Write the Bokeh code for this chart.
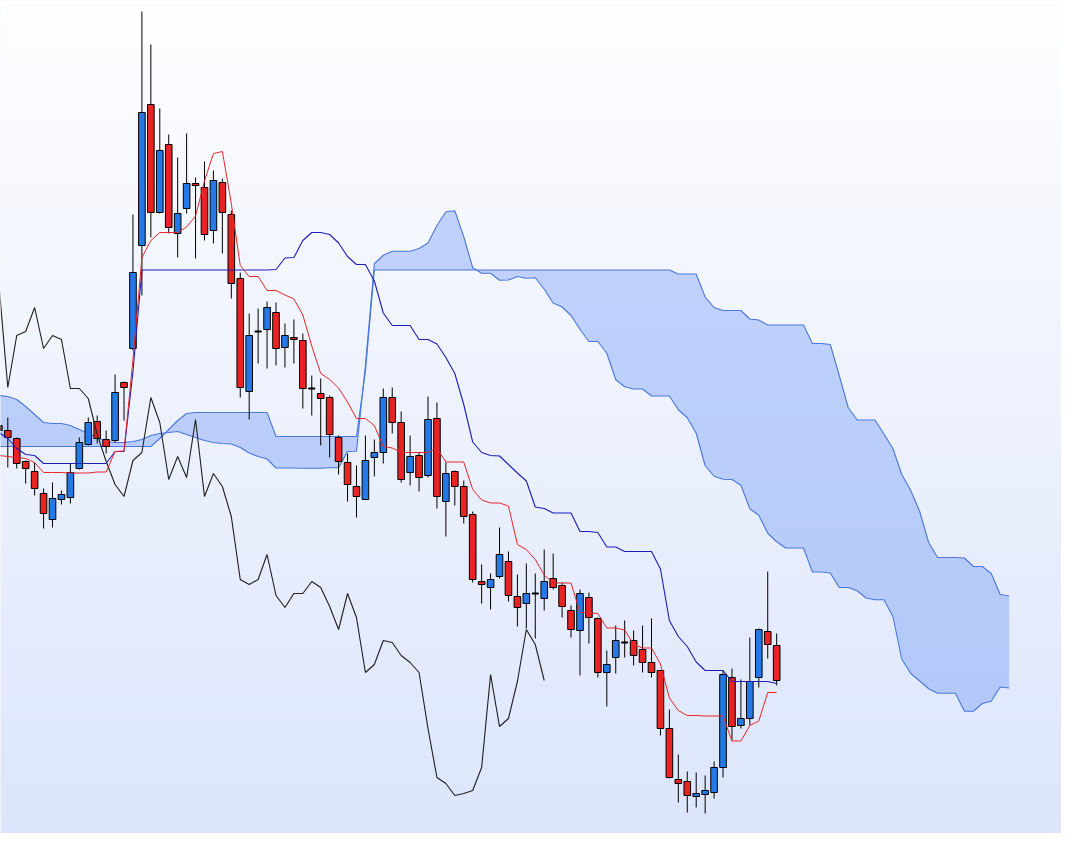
import numpy as np
from bokeh.plotting import figure
from bokeh.models import Range1d, ColumnDataSource
from bokeh.embed import file_html
from bokeh.resources import INLINE

# ---------------- data ----------------
open_ = [425, 420, 412, 389, 379, 357, 331, 351, 353, 382,
         406, 429, 411, 410, 468, 502, 605, 746, 638, 706,
         617, 642, 667, 663, 620, 668, 636, 572, 459, 519,
         521, 538, 503, 513, 510, 462, 457, 453, 413, 388,
         364, 351, 393, 398, 453, 428, 378, 395, 375, 432,
         349, 379, 364, 336, 269, 263, 274, 289, 254, 247,
         257, 252, 272, 265, 240, 220, 253, 232, 178, 193,
         208, 210, 201, 188, 180, 122, 71, 69, 54, 56,
         58, 83, 173, 125, 132, 173, 219, 205]
high = [430, 433, 413, 390, 388, 362, 368, 360, 387, 413,
        433, 435, 420, 476, 469, 636, 839, 806, 742, 716,
        693, 717, 673, 689, 680, 672, 640, 578, 537, 542,
        549, 548, 527, 531, 517, 475, 472, 455, 415, 397,
        385, 415, 411, 462, 463, 439, 415, 398, 454, 448,
        388, 380, 370, 339, 286, 277, 323, 299, 276, 287,
        277, 301, 297, 268, 245, 261, 258, 233, 200, 225,
        230, 220, 225, 232, 180, 141, 96, 79, 78, 75,
        89, 180, 182, 171, 213, 222, 279, 217]
low = [417, 383, 382, 367, 355, 322, 323, 346, 347, 381,
       405, 407, 397, 408, 430, 500, 555, 613, 637, 617,
       593, 637, 592, 610, 607, 597, 552, 453, 431, 487,
       482, 485, 483, 487, 442, 435, 405, 393, 376, 349,
       333, 351, 374, 387, 417, 368, 365, 359, 373, 342,
       314, 345, 327, 268, 247, 241, 272, 249, 224, 222,
       212, 240, 261, 233, 213, 175, 207, 173, 144, 177,
       193, 185, 178, 173, 115, 72, 48, 38, 43, 37,
       52, 73, 110, 122, 125, 163, 192, 165]
close = [420, 413, 387, 382, 362, 337, 352, 356, 378, 408,
         428, 412, 404, 458, 463, 578, 738, 638, 700, 623,
         637, 667, 665, 616, 670, 638, 567, 463, 515, 519,
         543, 502, 515, 511, 462, 462, 452, 416, 389, 366,
         354, 390, 398, 453, 428, 371, 394, 373, 431, 354,
         377, 364, 334, 271, 266, 271, 296, 255, 243, 257,
         257, 269, 263, 244, 221, 257, 233, 178, 186, 210,
         208, 195, 188, 178, 122, 73, 67, 55, 57, 60,
         83, 176, 124, 132, 169, 221, 206, 170]

# indicator values before enough history is visible
tenkan_early = [395, 394, 393, 392, 388, 378, 378, 378]
kijun_early = [418, 412, 402, 396, 395, 387, 387, 387, 387, 387, 387, 387, 387]
span_a_early = [455, 454, 451, 444, 436, 428, 427, 427, 425, 421,
                417, 413, 409, 408, 408, 409, 411, 415, 417, 418,
                419, 416, 413, 410, 408, 407]
span_b_early = [404] * 18 + [412, 421, 430, 437] + [438] * 9 + [414] * 10

SHIFT = 26

# ---------------- Ichimoku from the candles ----------------
n = len(close)


def midpoint(i, w):
    s = max(0, i - w + 1)
    return (max(high[s:i + 1]) + min(low[s:i + 1])) / 2.0


tenkan = [tenkan_early[i] if i < len(tenkan_early) else midpoint(i, 9) for i in range(n)]
kijun = [kijun_early[i] if i < len(kijun_early) else midpoint(i, 26) for i in range(n)]
span_a = list(span_a_early) + [(tenkan[k] + kijun[k]) / 2.0
                               for k in range(len(span_a_early) - SHIFT, n)]
span_b = list(span_b_early) + [midpoint(k, 52)
                               for k in range(len(span_b_early) - SHIFT, n)]
cloud_x = list(range(len(span_a)))
chikou_x = list(range(n - SHIFT))
chikou = [close[i + SHIFT] for i in chikou_x]

idx = list(range(n))
up = [c > o for o, c in zip(open_, close)]
doji = [c == o for o, c in zip(open_, close)]
colors = ["#2479e6" if u else ("#000000" if d else "#e82323") for u, d in zip(up, doji)]

# ---------------- figure ----------------
X0, X1 = 0.183, 118.86
Y0, Y1 = 17, 850
p = figure(width=1061, height=833, x_range=Range1d(X0, X1), y_range=Range1d(Y0, Y1),
           output_backend="svg", toolbar_location=None,
           x_axis_type=None, y_axis_type=None, min_border=0)
p.outline_line_color = None
p.background_fill_color = "#eef2fd"
p.border_fill_color = None

# vertical gradient background
N = 256
img = np.empty((N, 1), dtype=np.uint32)
view = img.view(dtype=np.uint8).reshape((N, 1, 4))
bottom_c = np.array([220, 229, 251])
top_c = np.array([254, 254, 255])
for r in range(N):
    t = r / (N - 1)
    c = bottom_c + (top_c - bottom_c) * t
    view[r, 0, 0] = int(round(c[0]))
    view[r, 0, 1] = int(round(c[1]))
    view[r, 0, 2] = int(round(c[2]))
    view[r, 0, 3] = 255
p.image_rgba(image=[img], x=X0, y=Y0, dw=X1 - X0, dh=Y1 - Y0)

# cloud
p.varea(x=cloud_x, y1=span_a, y2=span_b, fill_color="#6591f6", fill_alpha=0.36)
p.line(cloud_x, span_a, line_color="#4a78dc", line_width=1.1)
p.line(cloud_x, span_b, line_color="#4a78dc", line_width=1.1)

# candles
src = ColumnDataSource(dict(x=idx, o=open_, h=high, l=low, c=close, color=colors,
                            top=[max(o, c) for o, c in zip(open_, close)],
                            bot=[min(o, c) for o, c in zip(open_, close)]))
p.segment(x0="x", y0="h", x1="x", y1="l", source=src, line_color="black", line_width=1)
p.vbar(x="x", width=0.74, top="top", bottom="bot", source=src,
       fill_color="color", line_color="black", line_width=1)
dj = [i for i in idx if doji[i]]
p.segment(x0=[i - 0.37 for i in dj], y0=[close[i] for i in dj],
          x1=[i + 0.37 for i in dj], y1=[close[i] for i in dj],
          line_color="black", line_width=2)

# lines
p.line(chikou_x, chikou, line_color="#1e1e1e", line_width=1.1)
p.line(idx, kijun, line_color="#1d1db8", line_width=1.1)
p.line(idx, tenkan, line_color="#e8262a", line_width=1.0)

open("out.html", "w").write(file_html(p, INLINE))
